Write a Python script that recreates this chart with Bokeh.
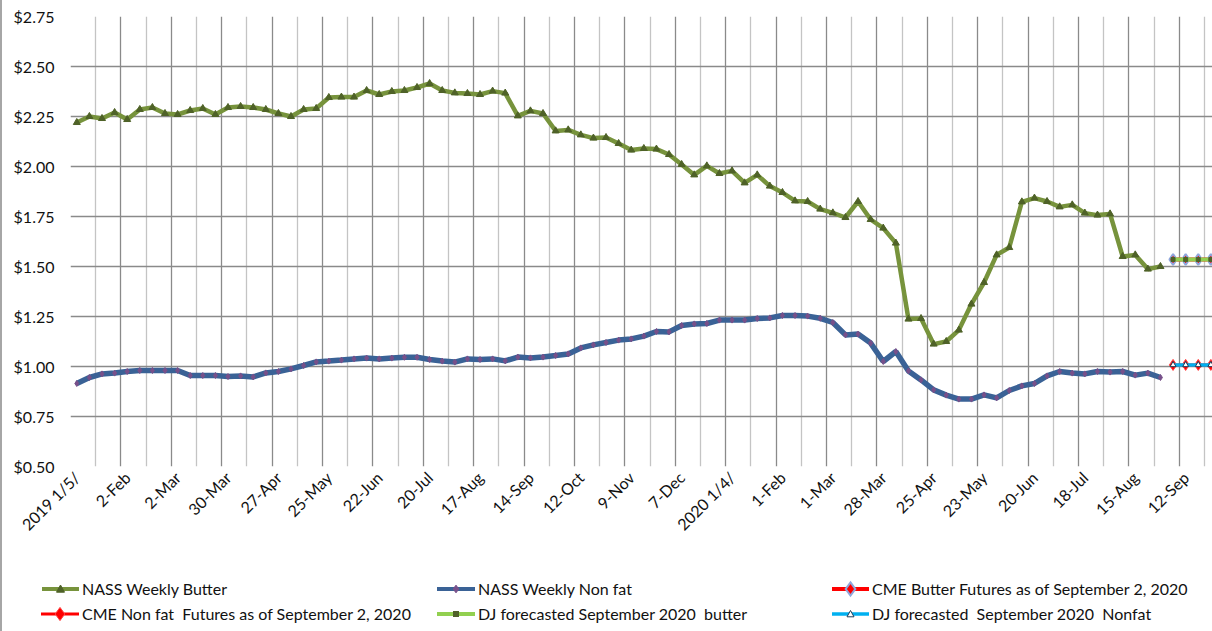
import math
from bokeh.plotting import figure
from bokeh.layouts import column
from bokeh.models import Range1d, FixedTicker, NumeralTickFormatter, Div
from bokeh.embed import file_html
from bokeh.resources import INLINE

FONT = "Lato"

# ---- data -------------------------------------------------------------
tick_positions = [0, 4, 8, 12, 16, 20, 24, 28, 32, 36, 40, 44, 48, 52, 56, 60, 64, 68, 72, 76, 80, 84, 88]
tick_labels = ["2019 1/5/", "2-Feb", "2-Mar", "30-Mar", "27-Apr", "25-May", "22-Jun", "20-Jul",
               "17-Aug", "14-Sep", "12-Oct", "9-Nov", "7-Dec", "2020 1/4/", "1-Feb", "1-Mar",
               "28-Mar", "25-Apr", "23-May", "20-Jun", "18-Jul", "15-Aug", "12-Sep"]

nass_butter = [2.22, 2.25, 2.24, 2.27, 2.235, 2.285, 2.295, 2.265, 2.26, 2.28,
               2.29, 2.26, 2.295, 2.30, 2.295, 2.285, 2.265, 2.25, 2.285, 2.29,
               2.345, 2.347, 2.347, 2.38, 2.36, 2.375, 2.38, 2.395, 2.415, 2.38,
               2.368, 2.365, 2.36, 2.377, 2.367, 2.253, 2.278, 2.265, 2.178, 2.183,
               2.158, 2.142, 2.145, 2.115, 2.082, 2.09, 2.087, 2.06, 2.01, 1.958,
               2.003, 1.965, 1.978, 1.918, 1.958, 1.902, 1.87, 1.828, 1.825, 1.787,
               1.768, 1.745, 1.825, 1.735, 1.692, 1.617, 1.237, 1.24, 1.112, 1.125,
               1.182, 1.312, 1.42, 1.558, 1.595, 1.823, 1.842, 1.825, 1.798, 1.808,
               1.767, 1.757, 1.763, 1.55, 1.558, 1.487, 1.50]

nass_nonfat = [0.915, 0.945, 0.963, 0.967, 0.975, 0.98, 0.98, 0.98, 0.98, 0.955,
               0.955, 0.955, 0.95, 0.953, 0.948, 0.968, 0.975, 0.988, 1.005, 1.023,
               1.027, 1.032, 1.038, 1.042, 1.038, 1.042, 1.046, 1.046, 1.035, 1.027,
               1.022, 1.038, 1.035, 1.038, 1.028, 1.047, 1.043, 1.047, 1.055, 1.063,
               1.093, 1.108, 1.12, 1.132, 1.138, 1.152, 1.175, 1.173, 1.205, 1.213,
               1.215, 1.232, 1.232, 1.232, 1.24, 1.243, 1.255, 1.255, 1.252, 1.241,
               1.22, 1.158, 1.162, 1.117, 1.025, 1.075, 0.978, 0.933, 0.883, 0.857,
               0.837, 0.837, 0.858, 0.843, 0.88, 0.903, 0.915, 0.953, 0.975, 0.967,
               0.963, 0.975, 0.972, 0.975, 0.957, 0.967, 0.945]

futures_weeks = [87, 88, 89, 90]
cme_butter = [1.535, 1.535, 1.535, 1.535]
cme_nonfat = [1.008, 1.008, 1.008, 1.008]
dj_butter = [1.535, 1.535, 1.535, 1.535]
dj_nonfat = [1.008, 1.008, 1.008, 1.008]

nass_weeks = list(range(len(nass_butter)))
y_ticks = [0.5, 0.75, 1.0, 1.25, 1.5, 1.75, 2.0, 2.25, 2.5, 2.75]

series_names = ["NASS Weekly Butter", "NASS Weekly Non fat",
                "CME Butter Futures as of September 2, 2020",
                "CME Non fat  Futures as of September 2, 2020",
                "DJ forecasted September 2020  butter",
                "DJ forecasted  September 2020  Nonfat"]

# ---- styles -----------------------------------------------------------
STY = {
    "butter": dict(line=dict(line_color="#77933C", line_width=4.5),
                   mark=dict(marker="triangle", size=7, fill_color="#4F6228", line_color="#4F6228")),
    "nonfat": dict(line=dict(line_color="#3A6296", line_width=5.5),
                   mark=dict(marker="diamond", size=6, fill_color="#77508A", line_color="#77508A")),
    "cme_b":  dict(line=dict(line_color="#FF0000", line_width=4),
                   mark=dict(marker="diamond", size=11, fill_color="#FF0000", line_color="#8FA6DC", line_width=2)),
    "cme_n":  dict(line=dict(line_color="#FF0000", line_width=3),
                   mark=dict(marker="diamond", size=11, fill_color="#FF0000", line_color="#FF4040", line_width=1)),
    "dj_b":   dict(line=dict(line_color="#92D050", line_width=4),
                   mark=dict(marker="square", size=4, fill_color="#4F6228", line_color="#4F6228")),
    "dj_n":   dict(line=dict(line_color="#00B0F0", line_width=3.5),
                   mark=dict(marker="triangle", size=6, fill_color="white", line_color="#1F3B57")),
}

# ---- main figure ------------------------------------------------------
p = figure(width=1210, height=546, output_backend="svg", toolbar_location=None,
           x_range=Range1d(-0.5, 90.13), y_range=Range1d(0.5, 2.75),
           min_border_left=68, min_border_right=0, min_border_top=16, min_border_bottom=80)
p.outline_line_color = None
p.background_fill_color = "white"
p.border_fill_color = "white"

major_x = [-0.5 + 4 * k for k in range(24)]
minor_x = [1.5 + 4 * k for k in range(23)]
p.xgrid.ticker = FixedTicker(ticks=major_x, minor_ticks=minor_x)
p.xgrid.grid_line_color = "#8a8a8a"
p.xgrid.grid_line_width = 1.3
p.xgrid.minor_grid_line_color = "#c4c4c4"
p.xgrid.minor_grid_line_width = 1.3
p.ygrid.ticker = FixedTicker(ticks=y_ticks)
p.ygrid.grid_line_color = "#8a8a8a"
p.ygrid.grid_line_width = 1.3

p.xaxis.ticker = FixedTicker(ticks=tick_positions)
p.xaxis.major_label_overrides = {pos: lab for pos, lab in zip(tick_positions, tick_labels)}
p.xaxis.major_label_orientation = math.pi / 4
p.yaxis.ticker = FixedTicker(ticks=y_ticks)
p.yaxis.formatter = NumeralTickFormatter(format="$0.00")
for ax in (p.xaxis, p.yaxis):
    ax.axis_line_color = None
    ax.major_tick_line_color = None
    ax.minor_tick_line_color = None
    ax.major_tick_out = 0
    ax.major_tick_in = 0
    ax.major_label_text_font = FONT
    ax.major_label_text_font_size = "16px"
    ax.major_label_text_color = "#111111"
p.yaxis.major_label_standoff = 16
p.xaxis.major_label_standoff = 8

series = [
    ("butter", nass_weeks, nass_butter),
    ("nonfat", nass_weeks, nass_nonfat),
    ("cme_b", futures_weeks, cme_butter),
    ("cme_n", futures_weeks, cme_nonfat),
    ("dj_b", futures_weeks, dj_butter),
    ("dj_n", futures_weeks, dj_nonfat),
]
for key, xs, ys in series:
    p.line(xs, ys, **STY[key]["line"])
    p.scatter(xs, ys, **STY[key]["mark"])

# ---- legend strip below the chart --------------------------------------
def swatch_svg(key, w):
    ln = STY[key]["line"]
    mk = STY[key]["mark"]
    cx, cy = w / 2, 10
    s = mk["size"] + 1
    h = s / 2
    if mk["marker"] == "triangle":
        shape = f'<polygon points="{cx},{cy - h} {cx - h},{cy + h * 0.8} {cx + h},{cy + h * 0.8}"'
    elif mk["marker"] == "diamond":
        shape = f'<polygon points="{cx},{cy - h * 1.1} {cx + h * 0.8},{cy} {cx},{cy + h * 1.1} {cx - h * 0.8},{cy}"'
    else:
        shape = f'<rect x="{cx - h}" y="{cy - h}" width="{s}" height="{s}"'
    shape += (f' fill="{mk["fill_color"]}" stroke="{mk["line_color"]}"'
              f' stroke-width="{mk.get("line_width", 1)}"/>')
    ln_w = min(ln["line_width"], 4)
    return (f'<svg width="{w}" height="20" style="display:block;flex:none">'
            f'<line x1="0" y1="10" x2="{w}" y2="10" stroke="{ln["line_color"]}" '
            f'stroke-width="{ln_w}"/>{shape}</svg>')

legend_layout = [  # (style key, series name index, left px, top px, swatch width)
    ("butter", 0, 35, 28, 37),
    ("nonfat", 1, 430, 28, 38),
    ("cme_b", 2, 825, 28, 37),
    ("cme_n", 3, 34, 53, 38),
    ("dj_b", 4, 430, 53, 38),
    ("dj_n", 5, 825, 53, 37),
]
items_html = ""
for key, idx, left, top, w in legend_layout:
    items_html += (f'<div style="position:absolute;left:{left}px;top:{top}px;height:20px;'
                   f'display:flex;align-items:center;">{swatch_svg(key, w)}'
                   f'<span style="margin-left:3px;white-space:pre;line-height:20px;">'
                   f'{series_names[idx]}</span></div>')
legend_div = Div(width=1210, height=85,
                 text=(f'<div style="position:relative;width:1210px;height:85px;'
                       f'font-family:{FONT};font-size:16px;color:#111111;">{items_html}</div>'))

layout = column(p, legend_div, spacing=0,
                styles={"border-left": "2px solid #a6a6a6"})
open("out.html", "w").write(file_html(layout, INLINE))
